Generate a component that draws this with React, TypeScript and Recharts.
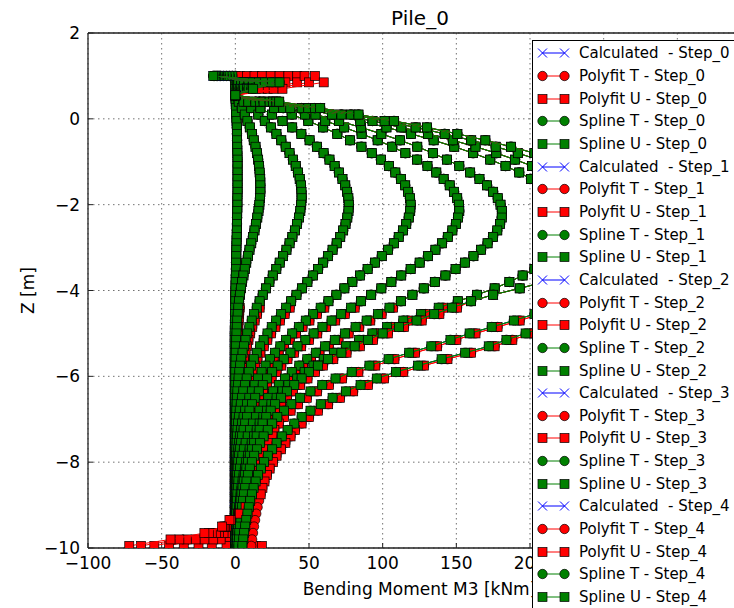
import React from 'react';
import { ScatterChart, Scatter, XAxis, YAxis, CartesianGrid, ReferenceLine, Legend } from 'recharts';

// depth of each station along the pile [m]
const depth = [
  1, 0.85, 0.7, 0.55, 0.4, 0.25, 0.1, -0.05, -0.2, -0.35,
  -0.5, -0.65, -0.8, -0.95, -1.1, -1.25, -1.4, -1.55, -1.7, -1.85,
  -2, -2.15, -2.3, -2.45, -2.6, -2.75, -2.9, -3.05, -3.2, -3.35,
  -3.5, -3.65, -3.8, -3.95, -4.1, -4.25, -4.4, -4.55, -4.7, -4.85,
  -5, -5.15, -5.3, -5.45, -5.6, -5.75, -5.9, -6.05, -6.2, -6.35,
  -6.5, -6.65, -6.8, -6.95, -7.1, -7.25, -7.4, -7.55, -7.7, -7.85,
  -8, -8.15, -8.3, -8.45, -8.6, -8.75, -8.9, -9.05, -9.2, -9.35,
  -9.5, -9.65, -9.8, -9.95,
];

// calculated / spline moments per step [kNm], one value per depth
const calc0 = [
  0, 0, 0, 0, 0.2, 0.4, 0.6, 0.8, 1, 1.1,
  1.2, 1.3, 1.4, 1.5, 1.5, 1.5, 1.5, 1.5, 1.5, 1.4,
  1.4, 1.3, 1.2, 1.1, 1, 0.9, 0.8, 0.7, 0.6, 0.5,
  0.4, 0.3, 0.2, 0.1, 0, 0, -0.1, -0.2, -0.3, -0.4,
  -0.5, -0.5, -0.5, -0.5, -0.5, -0.5, -0.5, -0.5, -0.5, -0.5,
  -0.5, -0.5, -0.5, -0.5, -0.5, -0.5, -0.5, -0.5, -0.5, -0.5,
  -0.5, -0.5, -0.5, -0.5, -0.5, -0.5, -0.5, -0.5, -0.5, -0.5,
  -0.5, -0.5, -0.5, -0.5,
];
const calc1 = [
  -2, 1, 1, 0, 2.3, 4.4, 6.4, 8.2, 9.8, 11.3,
  12.5, 13.7, 14.7, 15.5, 16.1, 16.5, 16.9, 17, 17, 16.7,
  16.3, 15.7, 14.9, 14, 13, 11.9, 10.8, 9.6, 8.5, 7.4,
  6.4, 5.5, 4.6, 3.8, 3.1, 2.5, 2, 1.6, 1.3, 1,
  0.8, 0.6, 0.4, 0.3, 0.2, 0.1, 0, 0, 0, 0,
  0, 0, 0, 0, 0, 0, 0, 0, 0, 0,
  0, 0, 0, 0, 0, 0, -0.3, -0.3, -0.3, -0.3,
  -0.3, -0.3, -0.3, -0.3,
];
const calc2 = [
  -4, 2, 2, 0, 5.6, 10.8, 15.6, 20, 24.1, 27.9,
  31.2, 34.2, 36.8, 39.1, 41, 42.5, 43.7, 44.5, 44.9, 45,
  44.7, 44.1, 43.2, 41.9, 40.4, 38.7, 36.8, 34.7, 32.4, 30.1,
  27.8, 25.4, 23.1, 20.8, 18.6, 16.5, 14.5, 12.7, 11.1, 9.5,
  8.1, 6.9, 5.8, 4.9, 4, 3.3, 2.7, 2.2, 1.8, 1.4,
  1.1, 0.9, 0.7, 0.5, 0.4, 0.3, 0.2, 0.1, 0, 0,
  0, 0, 0, 0, 0, 0, 0, 0, 0, 0,
  0, 0, 0, 0,
];
const calc3 = [
  -6, 4, 3, 0, 8.8, 17, 24.8, 32, 38.6, 44.8,
  50.4, 55.4, 59.9, 63.9, 67.4, 70.3, 72.7, 74.6, 75.9, 76.7,
  77, 76.8, 76, 74.8, 73.2, 71.2, 68.8, 66, 62.9, 59.6,
  56.2, 52.6, 48.9, 45.2, 41.5, 37.9, 34.4, 31, 27.7, 24.7,
  21.8, 19.2, 16.8, 14.5, 12.5, 10.7, 9.1, 7.7, 6.5, 5.4,
  4.5, 3.7, 3, 2.4, 1.9, 1.5, 1.2, 0.9, 0.7, 0.5,
  0.4, 0.3, 0.2, 0.1, 0, 0, 0, 0, 0, 0,
  0, 0, 0, 0,
];
const calc4 = [
  -8, 6, 4, 0, 13.6, 26.3, 38.3, 49.5, 59.6, 69.2,
  77.9, 85.6, 92.6, 98.8, 104.2, 108.6, 112.4, 115.3, 117.3, 118.5,
  119, 118.7, 117.7, 116, 113.8, 110.9, 107.6, 103.7, 99.4, 94.7,
  89.8, 84.7, 79.4, 74, 68.6, 63.2, 57.9, 52.8, 47.8, 43.1,
  38.6, 34.4, 30.5, 26.9, 23.5, 20.5, 17.8, 15.3, 13.1, 11.2,
  9.5, 8, 6.7, 5.6, 4.6, 3.8, 3.1, 2.5, 2, 1.6,
  1.3, 1, 0.8, 0.6, 0.4, 0.3, 0.2, 0.1, 0, 0,
  0, 0, 0, 0,
];
const calc5 = [
  -10, 9, 5, 0, 16.7, 32.5, 47.2, 61, 73.9, 85.7,
  96.6, 106.5, 115.4, 123.4, 130.4, 136.4, 141.4, 145.5, 148.5, 150.6,
  151.8, 152, 151.2, 149.7, 147.3, 144.2, 140.3, 135.8, 130.7, 125.1,
  119, 112.6, 105.9, 99.1, 92.2, 85.3, 78.5, 71.8, 65.3, 59.1,
  53.1, 47.5, 42.2, 37.4, 32.9, 28.7, 25, 21.6, 18.6, 15.9,
  13.5, 11.4, 9.6, 8, 6.7, 5.6, 4.6, 3.8, 3.1, 2.5,
  2, 1.6, 1.3, 1, 0.8, 0.6, 0.5, 0.4, 0.3, 0.2,
  0.1, 0, 0, 0,
];
const calc6 = [
  -11, 12, 6, 0, 19.2, 37.3, 54.4, 70.4, 85.3, 99.1,
  111.8, 123.5, 134.1, 143.6, 152, 159.4, 165.7, 170.9, 175, 178.1,
  180, 180.9, 180.8, 179.7, 177.8, 174.9, 171.2, 166.8, 161.6, 155.8,
  149.5, 142.6, 135.4, 127.9, 120.2, 112.4, 104.6, 96.8, 89.1, 81.6,
  74.4, 67.5, 60.9, 54.6, 48.8, 43.4, 38.3, 33.7, 29.5, 25.7,
  22.3, 19.2, 16.4, 14, 11.9, 10, 8.4, 7, 5.8, 4.8,
  3.9, 3.2, 2.6, 2.1, 1.7, 1.4, 1.1, 0.9, 0.7, 0.5,
  0.4, 0.3, 0.2, 0.1,
];
const calc7 = [
  -12, 16, 8, 0, 23.3, 45, 65.6, 84.8, 102.6, 119.2,
  134.6, 148.6, 161.4, 173, 183.4, 192.7, 200.7, 207.7, 213.5, 218.3,
  222.1, 224.9, 226.7, 227.7, 228, 227, 225, 221, 216, 210,
  203, 195, 186, 176, 164, 151, 138, 126, 114, 103,
  93, 84, 75, 67, 60, 53, 47, 42, 36, 32,
  28, 24.5, 21.5, 19, 16.5, 14.5, 12.7, 11.1, 9.7, 8.5,
  7.4, 6.5, 5.6, 4.9, 4.2, 3.6, 3.1, 2.6, 2.2, 1.8,
  1.5, 1.2, 1, 0.8,
];
const calc8 = [
  -13, 20, 9, 0, 25.5, 49.5, 72, 93.1, 112.7, 130.8,
  147.6, 163, 177.1, 189.9, 201.4, 211.7, 220.7, 228.6, 235.3, 241,
  245.5, 249.1, 251.8, 253.6, 254.6, 255, 254, 252, 248, 242,
  234, 223, 210, 193, 175, 160, 147, 135, 123, 111,
  100, 90, 81, 72, 63, 56, 50, 45, 40, 35,
  31, 27, 24, 21, 18.5, 16.5, 14.5, 12.8, 11.2, 9.8,
  8.6, 7.5, 6.5, 5.7, 4.9, 4.2, 3.6, 3.1, 2.6, 2.2,
  1.8, 1.5, 1.2, 1,
];
const calc9 = [
  -14, 25, 11, 0, 27.9, 54, 78.5, 101.3, 122.4, 142.1,
  160.1, 176.7, 191.8, 205.5, 217.8, 228.8, 238.5, 247.1, 254.5, 260.8,
  266, 270.3, 273.7, 276.2, 278.1, 279.2, 279.8, 280, 279, 277,
  272, 266, 258, 248, 237, 225, 214, 203, 189, 174,
  159, 146, 133, 118, 104, 91, 79, 68, 59, 51,
  44, 38, 33, 28.5, 25, 22, 19.2, 16.8, 14.7, 12.8,
  11.2, 9.8, 8.6, 7.6, 6.7, 5.9, 5.2, 4.6, 4, 3.5,
  3.1, 2.7, 2.4, 2.1,
];
const calc10 = [
  -15, 30, 12, 0, 29.8, 57.6, 83.6, 107.7, 130.1, 150.7,
  169.7, 187.1, 203, 217.4, 230.3, 241.9, 252.2, 261.3, 269.2, 276,
  281.8, 286.6, 290.5, 293.6, 296, 297.7, 298.9, 299.6, 299.9, 300,
  299, 296, 290, 282, 272, 261, 249, 236, 223, 210,
  197, 184, 172, 156, 140, 124, 109, 96, 85, 75,
  66, 58, 51, 45, 40, 35.5, 31.5, 28, 25, 22,
  19.5, 17.3, 15.4, 13.8, 12.4, 11.2, 10.1, 9.1, 8.2, 7.4,
  6.7, 6, 5.4, 4.8,
];

// polyfit T values below -4.4 m (above that it follows the calculated curve)
const polyLow0 = [
  0.3, 0.3, 0.3, 0.3, 0.3, 0.3, 0.3, 0.3, 0.3, 0.3,
  0.3, 0.3, 0.3, 0.3, 0.3, 0.3, 0.3, 0.3, 0.3, 0.3,
  0.5, 0.7, 0.9, 1.1, 1.3, 1.5, 1.7, 1.9, 2.1, 2.3, 2.5, 2.7, 2.9, 3.1, 3.3, 3.5, 3.7, 4,
];
const polyLow1 = [
  3, 2.6, 2.3, 2, 1.8, 1.6, 1.4, 1.3, 1.2, 1.1,
  1, 1, 1, 1, 1, 1, 1, 1, 1, 1,
  1.2, 1.4, 1.6, 1.8, 2, 2.2, 2.4, 2.6, 2.8, 3, 3.2, 3.4, 3.6, 3.8, 4, 4.2, 4.4, 4.6,
];
const polyLow2 = [
  16.5, 14.7, 13.1, 11.5, 10.1, 8.9, 7.8, 6.9, 6, 5.3,
  4.7, 4.2, 3.8, 3.4, 3.1, 2.9, 2.7, 2.5, 2.4, 2.3,
  2.7, 2.6, 2.5, 2.5, 2.5, 2.5, 2.5, 2.5, 2.5, 2.5, 2.5, 2.5, 2.5, 2.5, 2.5, 2.5, 2.5, 2.5,
];
const polyLow3 = [
  36.9, 33.5, 30.2, 27.2, 24.3, 21.7, 19.3, 17, 15, 13.2,
  12.1, 10.7, 9.5, 8.4, 7.5, 6.7, 6, 5.4, 4.9, 4.5,
  4.2, 3.9, 3.7, 3.5, 3.4, 3.3, 3.2, 3.1, 3, 3, 3, 3, 3, 3, 3, 3, 3, 3,
];
const polyLow4 = [
  60.4, 55.3, 50.3, 45.6, 41.1, 36.9, 33, 29.4, 26, 23,
  20.8, 18.3, 16.1, 14.2, 12.5, 11, 9.7, 8.6, 7.6, 6.8,
  7.1, 6.5, 6, 5.6, 5.3, 5, 4.8, 4.6, 4.4, 4.3, 4.2, 4.1, 4, 4, 4, 4, 4, 4,
];
const polyLow5 = [
  81, 74.3, 67.8, 61.6, 55.6, 50, 44.7, 39.9, 35.4, 31.2,
  28, 24.6, 21.6, 18.9, 16.5, 14.4, 12.6, 11, 9.7, 8.6,
  8.6, 7.8, 7.1, 6.5, 6, 5.6, 5.3, 5, 4.8, 4.6, 4.5, 4.4, 4.3, 4.2, 4.1, 4, 4, 4,
];
const polyLow6 = [
  107.1, 99.3, 91.6, 84.1, 76.9, 70, 63.4, 57.1, 51.3, 45.9,
  41.3, 36.7, 32.5, 28.7, 25.3, 22.2, 19.4, 17, 14.9, 13,
  12.4, 11, 9.8, 8.8, 7.9, 7.2, 6.6, 6.1, 5.7, 5.4, 5.1, 4.9, 4.7, 4.5, 4.4, 4.3, 4.2, 4.1,
];
const polyLow7 = [
  141, 129, 117, 106, 96, 87, 78, 70, 63, 56,
  50.5, 45.5, 39.5, 35.5, 31.5, 28, 25, 22.5, 20, 18,
  17.7, 16.1, 14.7, 13.5, 12.4, 11.5, 10.6, 9.9, 9.2, 8.6, 8.1, 7.6, 7.2, 6.8, 6.5, 6.2, 6, 5.8,
];
const polyLow8 = [
  150.5, 138.5, 126.5, 114.5, 103.5, 93.5, 84.5, 75.5, 66.5, 59.5,
  54, 49, 44, 39, 35, 31, 28, 25, 22.5, 20.5,
  19.5, 17.8, 16.2, 14.8, 13.6, 12.5, 11.5, 10.7, 9.9, 9.2, 8.6, 8.1, 7.6, 7.2, 6.8, 6.5, 6.2, 6,
];
const polyLow9 = [
  218, 207, 193, 178, 163, 150, 137, 122, 108, 95,
  83.5, 72.5, 63.5, 55.5, 48.5, 42.5, 37.5, 33, 29.5, 26.5,
  25.2, 22.8, 20.7, 18.8, 17.2, 15.8, 14.6, 13.6, 12.7, 11.9, 11.2, 10.6, 10, 9.5, 9.1, 8.7, 8.4, 8.1,
];
const polyLow10 = [
  253, 240, 227, 214, 201, 188, 176, 160, 144, 128,
  114, 101, 90, 80, 71, 63, 56, 50, 45, 40.5,
  37.5, 34, 31, 28, 25.5, 23.3, 21.4, 19.8, 18.4, 17.2, 16.1, 15.1, 14.2, 13.4, 12.7, 12, 11.4, 10.8,
];

// polyfit U end values (top three stations, bottom eight stations)
const polyUTop = [
  [0, 0, 0], [3, 2, 1], [8, 4, 3], [13, 8, 5], [18, 12, 7], [24, 18, 9],
  [30, 26, 14], [36, 34, 18], [42, 42, 22], [47, 50, 26], [54, 60, 32],
];
const polyUBottom = [
  [0, 0, 0, 0, 1, 2, 4, 8],
  [0, 0, 0, 1, 2, 4, 8, 14],
  [0.5, 1, 1, 2, 3, 5, 9, 18],
  [1, 1, 1, 1, 0, -2, -4, -6],
  [2, 2, 1, 0, -2, -5, -10, -16],
  [3, 2, 1, -1, -4, -8, -15, -25],
  [4, 3, 1, -2, -5, -11, -21, -35],
  [5, 4, 2, -2, -6, -13, -27, -45],
  [6, 5, 2, -3, -7, -16, -33, -55],
  [8, 6, 3, -3, -8, -18, -38, -64],
  [10, 7, 3, -4, -9, -21, -44, -72],
];

const stepNames = ['Step_0', 'Step_1', 'Step_2', 'Step_3', 'Step_4', 'Step_5', 'Step_6', 'Step_7', 'Step_8', 'Step_9', 'Step_10'];
// only the first five steps of the legend fit inside the picture
const legendSteps = stepNames.slice(0, 5);
const xTicks = [-100, -50, 0, 50, 100, 150, 200, 250, 300, 350];
const zTicks = [-10, -8, -6, -4, -2, 0, 2];

const calcSets = [calc0, calc1, calc2, calc3, calc4, calc5, calc6, calc7, calc8, calc9, calc10];
const polyLows = [polyLow0, polyLow1, polyLow2, polyLow3, polyLow4, polyLow5, polyLow6, polyLow7, polyLow8, polyLow9, polyLow10];

const kinds = [
  { label: 'Calculated ', color: '#0000ff', marker: 'x' },
  { label: 'Polyfit T', color: '#ff0000', marker: 'o' },
  { label: 'Polyfit U', color: '#ff0000', marker: 's' },
  { label: 'Spline T', color: '#008000', marker: 'o' },
  { label: 'Spline U', color: '#008000', marker: 's' },
];

const steps = stepNames.map((step, k) => {
  const polyT = [...calcSets[k].slice(0, 36), ...polyLows[k]];
  const polyU = [...polyUTop[k], ...polyT.slice(3, 66), ...polyUBottom[k]];
  return { step, values: [calcSets[k], polyT, polyU, calcSets[k], calcSets[k]] };
});

const toPoints = (vals: number[]) => vals.map((x, i) => ({ x, z: depth[i] }));
const minus = (v: number) => String(v).replace('-', '\u2212');
// labels past 200 sit under the legend box
const xLabel = (v: number) => (v > 200 ? '' : minus(v));
const FONT = '"DejaVu Sans", sans-serif';

function Marker({ cx, cy, kind, color }: { cx?: number; cy?: number; kind: string; color: string }) {
  if (cx == null || cy == null) return null;
  if (kind === 's') {
    return <rect x={cx - 4.5} y={cy - 4.5} width={9} height={9} fill={color} stroke="#000" strokeWidth={0.7} />;
  }
  if (kind === 'o') {
    return <circle cx={cx} cy={cy} r={4.7} fill={color} stroke="#000" strokeWidth={0.7} />;
  }
  return (
    <path
      d={`M${cx - 4.5},${cy - 4.5}L${cx + 4.5},${cy + 4.5}M${cx - 4.5},${cy + 4.5}L${cx + 4.5},${cy - 4.5}`}
      stroke={color}
      strokeWidth={1}
      fill="none"
    />
  );
}

function LegendBox() {
  return (
    <div style={{ background: '#fff', border: '1px solid #000', paddingTop: 1, paddingBottom: 40, fontFamily: FONT, fontSize: 15, color: '#000', width: 240 }}>
      {legendSteps.map((step) =>
        kinds.map((kd) => (
          <div key={kd.label + step} style={{ height: 22.67, display: 'flex', alignItems: 'center', whiteSpace: 'pre' }}>
            <svg width={46} height={22} style={{ flex: 'none' }}>
              <line x1={9.5} y1={11} x2={31.5} y2={11} stroke={kd.color} strokeWidth={1} />
              <Marker cx={9.5} cy={11} kind={kd.marker} color={kd.color} />
              <Marker cx={31.5} cy={11} kind={kd.marker} color={kd.color} />
            </svg>
            <span>{`${kd.label} - ${step}`}</span>
          </div>
        ))
      )}
    </div>
  );
}

export default function App() {
  return (
    <div style={{ position: 'absolute', left: 0, top: 0, width: 734, height: 608, overflow: 'hidden', background: '#fff' }}>
      <ScatterChart width={800} height={608} margin={{ top: 33, right: 49, bottom: 10, left: 28 }}>
        <CartesianGrid stroke="#000" strokeOpacity={0.7} strokeDasharray="1.5 3.5" strokeWidth={0.8} />
        <XAxis
          type="number"
          dataKey="x"
          domain={[-100, 350]}
          ticks={xTicks}
          tickFormatter={xLabel}
          allowDataOverflow
          height={50}
          tickSize={-5}
          tickMargin={13.5}
          tickLine={{ stroke: '#222' }}
          axisLine={{ stroke: '#222', strokeWidth: 1.3 }}
          tick={{ fill: '#000', fontSize: 17, fontFamily: FONT }}
          label={{ value: 'Bending Moment M3 [kNm]', position: 'insideBottom', offset: 3, fill: '#000', fontSize: 17, fontFamily: FONT }}
        />
        <YAxis
          type="number"
          dataKey="z"
          domain={[-10, 2]}
          ticks={zTicks}
          tickFormatter={minus}
          allowDataOverflow
          width={60}
          tickSize={-5}
          tickMargin={13}
          tickLine={{ stroke: '#222' }}
          axisLine={{ stroke: '#222', strokeWidth: 1.3 }}
          tick={{ fill: '#000', fontSize: 17, fontFamily: FONT }}
          label={{ value: 'Z [m]', angle: -90, position: 'insideLeft', offset: 0, fill: '#000', fontSize: 17, fontFamily: FONT, style: { textAnchor: 'middle' } }}
        />
        <ReferenceLine y={2} stroke="#222" strokeWidth={1.3} />
        {steps.flatMap((s) =>
          kinds.map((kd, j) => (
            <Scatter
              key={`${s.step}-${j}`}
              name={`${kd.label} - ${s.step}`}
              data={toPoints(s.values[j])}
              line={{ stroke: kd.color, strokeWidth: 1 }}
              shape={(p: any) => <Marker cx={p.cx} cy={p.cy} kind={kd.marker} color={kd.color} />}
              legendType="none"
              isAnimationActive={false}
            />
          ))
        )}
        <Legend
          verticalAlign="middle"
          align="center"
          content={() => <LegendBox />}
          wrapperStyle={{ left: 532, top: 40, width: 242, height: 'auto' }}
        />
      </ScatterChart>
      <div style={{ position: 'absolute', left: 320, top: 8, width: 200, textAlign: 'center', fontFamily: FONT, fontSize: 20, lineHeight: '20px', color: '#000' }}>
        Pile_0
      </div>
    </div>
  );
}
